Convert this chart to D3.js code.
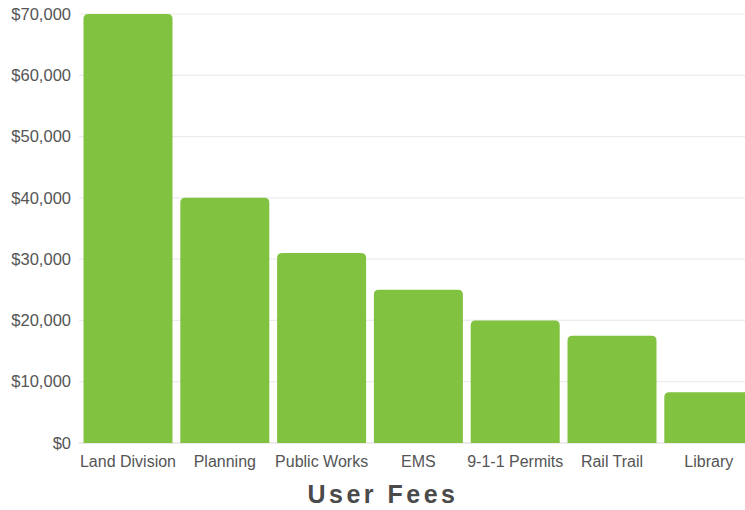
<!DOCTYPE html>
<html>
<head>
<meta charset="utf-8">
<script src="https://cdn.jsdelivr.net/npm/d3@7"></script>
<style>
  html, body { margin: 0; padding: 0; background: #fff; }
  svg { display: block; font-family: "Liberation Sans", Arial, Helvetica, sans-serif; }
</style>
</head>
<body>
<svg id="chart" width="745" height="510"></svg>
<script>
// Annual user-fee revenue by department
const categories = ["Land Division", "Planning", "Public Works", "EMS", "9-1-1 Permits", "Rail Trail", "Library"];
const fees = [70000, 40000, 31000, 25000, 20000, 17500, 8300];
const yTicks = [0, 10000, 20000, 30000, 40000, 50000, 60000, 70000];
const chartTitle = "User Fees";

const svg = d3.select("#chart");

const x = d3.scaleBand()
  .domain(categories)
  .range([83.5, 753.3])
  .paddingInner(0.0806)
  .paddingOuter(0);

const y = d3.scaleLinear()
  .domain([0, 70000])
  .range([443, 14]);

// Horizontal gridlines
svg.append("g")
  .selectAll("line")
  .data(yTicks)
  .join("line")
  .attr("x1", 79)
  .attr("x2", 745)
  .attr("y1", d => y(d))
  .attr("y2", d => y(d))
  .attr("stroke", d => d === 0 ? "#d9d9d9" : "#ececec")
  .attr("stroke-width", 1.2);

// Y axis labels
const yAxis = d3.axisLeft(y)
  .tickValues(yTicks)
  .tickFormat(d => "$" + d3.format(",")(d))
  .tickSize(0)
  .tickPadding(0);

const yg = svg.append("g")
  .attr("transform", "translate(71,0)")
  .call(yAxis);
yg.select(".domain").remove();
yg.selectAll("text")
  .attr("fill", "#555")
  .attr("font-size", "16.5px")
  .attr("font-family", "\"Liberation Sans\", Arial, sans-serif");

// Bars with rounded top corners
const r = 5;
function barPath(d, i) {
  const x0 = x(categories[i]);
  const w = x.bandwidth();
  const y0 = y(d);
  const yb = y(0);
  return `M${x0},${yb}V${y0 + r}Q${x0},${y0} ${x0 + r},${y0}` +
         `H${x0 + w - r}Q${x0 + w},${y0} ${x0 + w},${y0 + r}V${yb}Z`;
}

svg.append("g")
  .selectAll("path")
  .data(fees)
  .join("path")
  .attr("d", barPath)
  .attr("fill", "#81c241");

// X axis labels
const xAxis = d3.axisBottom(x).tickSize(0).tickPadding(0);
const xg = svg.append("g")
  .attr("transform", "translate(0,456)")
  .call(xAxis);
xg.select(".domain").remove();
xg.selectAll("text")
  .attr("fill", "#555")
  .attr("font-size", "16px")
  .attr("font-family", "\"Liberation Sans\", Arial, sans-serif");

// Title
svg.append("text")
  .attr("x", 383)
  .attr("y", 503)
  .attr("text-anchor", "middle")
  .attr("fill", "#4a4a4a")
  .attr("font-size", "25px")
  .attr("font-weight", "bold")
  .attr("letter-spacing", "3.5px")
  .text(chartTitle);
</script>
</body>
</html>
